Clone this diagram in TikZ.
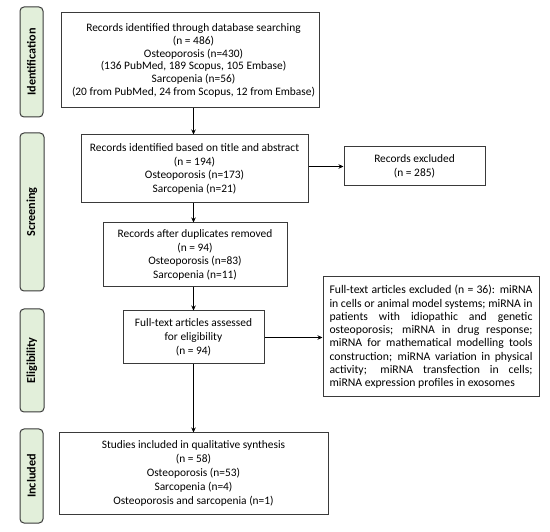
\documentclass[tikz,border=0pt]{standalone}
\usepackage{fontspec}
\setmainfont{Carlito}
\usetikzlibrary{arrows.meta}
\definecolor{sidefill}{HTML}{E2EFDA}
\definecolor{edge}{HTML}{3A3A3A}
\begin{document}
\begin{tikzpicture}[x=1pt,y=-1pt,
  every node/.style={font=\fontsize{11.4}{13.8}\selectfont},
  flowbox/.style={draw=edge,line width=1pt,fill=white,align=center,inner sep=0pt},
  sidebox/.style={draw=edge,line width=1pt,fill=sidefill,rounded corners=4pt,inner sep=0pt},
  sidetext/.style={rotate=90,font=\fontsize{12.2}{14}\selectfont\bfseries},
  arr/.style={-{Stealth[length=5pt,width=4.5pt]},line width=0.9pt,draw=black}]
\useasboundingbox (0,0) rectangle (550,532);
% side labels
\node[sidebox,minimum width=23pt,minimum height=110pt] (sid) at (31.5,62) {};
\node[sidetext] (sidt) at (sid.center) {Identification};
\node[sidebox,minimum width=24pt,minimum height=158pt] (sscr) at (32,212) {};
\node[sidetext] (sscrt) at (sscr.center) {Screening};
\node[sidebox,minimum width=24pt,minimum height=103pt] (self) at (32,360.5) {};
\node[sidetext] (selt) at (self.center) {Eligibility};
\node[sidebox,minimum width=23pt,minimum height=94pt] (sinc) at (31.5,476) {};
\node[sidetext] (sinct) at (sinc.center) {Included};
% main boxes
\node[flowbox,minimum width=258pt,minimum height=95pt] (b1) at (190,60.5) {};
\node[align=center,inner sep=0pt,font=\fontsize{11.4}{12.8}\selectfont] (b1t) at ([xshift=3.5pt]b1.center)
 {Records identified through database searching\\(n = 486)\\Osteoporosis (n=430)\\(136 PubMed, 189 Scopus, 105 Embase)\\Sarcopenia (n=56)\\(20 from PubMed, 24 from Scopus, 12 from Embase)};
\node[flowbox,minimum width=227pt,minimum height=68pt] (b2) at (194.5,169)
 {Records identified based on title and abstract\\(n = 194)\\Osteoporosis (n=173)\\Sarcopenia (n=21)};
\node[flowbox,minimum width=141pt,minimum height=39pt] (e1) at (414.5,166.5)
 {Records excluded\\(n = 285)};
\node[flowbox,minimum width=184pt,minimum height=64pt] (b3) at (195,255)
 {Records after duplicates removed\\(n = 94)\\Osteoporosis (n=83)\\Sarcopenia (n=11)};
\node[flowbox,minimum width=141pt,minimum height=53pt] (b4) at (193.5,337.5)
 {Full-text articles assessed\\for eligibility\\(n = 94)};
\node[flowbox,minimum width=216pt,minimum height=120pt,text width=203pt,align=justify,inner xsep=6.5pt,font=\fontsize{11.7}{13.3}\selectfont] (e2) at (431,337)
 {Full-text articles excluded (n = 36): miRNA\linebreak in cells or animal model systems; miRNA in\linebreak patients with idiopathic and genetic\linebreak osteoporosis; miRNA in drug response;\linebreak miRNA for mathematical modelling tools\linebreak construction; miRNA variation in physical\linebreak activity; miRNA transfection in cells;\linebreak miRNA expression profiles in exosomes};
\node[flowbox,minimum width=269pt,minimum height=81pt] (b5) at (193.5,473.5)
 {Studies included in qualitative synthesis\\(n = 58)\\Osteoporosis (n=53)\\Sarcopenia (n=4)\\Osteoporosis and sarcopenia (n=1)};
% connectors
\draw[arr] (b1.south -| b4.center) -- (b2.north -| b4.center);
\draw[arr] (b2.south -| b4.center) -- (b3.north -| b4.center);
\draw[arr] (b3.south -| b4.center) -- (b4.north);
\draw[arr] (b4.south) -- (b5.north -| b4.center);
\draw[arr] (b2.east |- e1.west) -- (e1.west);
\draw[arr] (b4.east) -- (b4.east -| e2.west);
\end{tikzpicture}
\end{document}
